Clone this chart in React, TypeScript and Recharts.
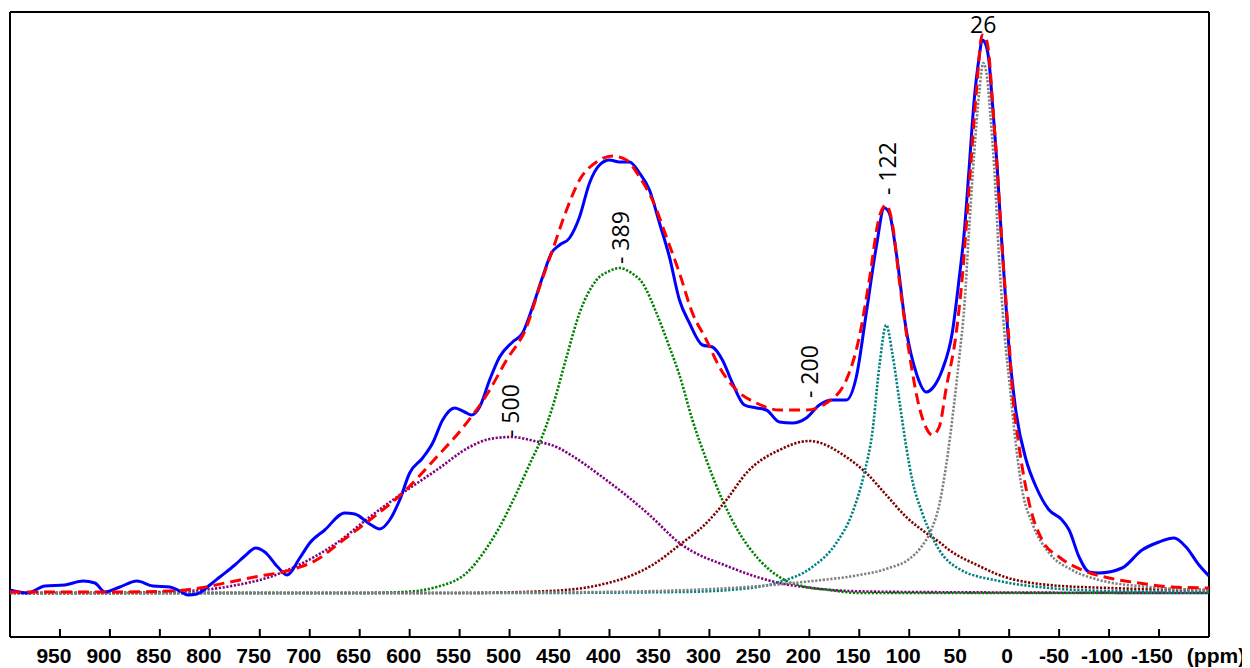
import React from "react";
import { LineChart, Line, XAxis, YAxis, ReferenceLine, ReferenceDot } from "recharts";

type Pt = [number, number];

// Experimental spectrum (ppm, intensity)
const experimental: Pt[] = [
  [1000, 3], [983, 0], [965, 7], [945, 8], [927, 12], [915, 10], [905, 1], [890, 6], [873, 12], [857, 7],
  [840, 6], [830, 2], [822, -2], [813, -1], [800, 8], [790, 16], [775, 28], [765, 37], [754, 45], [745, 41],
  [732, 26], [723, 18], [710, 35], [700, 50], [685, 63], [665, 80], [655, 79], [640, 69], [630, 64], [620, 73],
  [610, 93], [600, 120], [587, 135], [577, 150], [567, 173], [555, 185], [545, 181], [538, 178], [530, 186],
  [520, 213], [510, 236], [497, 251], [487, 260], [477, 286], [467, 316], [458, 340], [450, 348], [440, 355],
  [430, 376], [420, 410], [410, 428], [400, 433], [390, 431], [380, 431], [370, 420], [360, 403], [350, 370],
  [340, 336], [330, 293], [320, 270], [307, 248], [297, 246], [287, 233], [277, 210], [265, 188], [253, 185],
  [243, 183], [230, 171], [217, 170], [203, 175], [190, 188], [177, 193], [163, 193], [153, 216], [143, 280],
  [133, 346], [125, 385], [120, 380], [113, 340], [103, 263], [93, 220], [83, 201], [75, 207], [67, 223],
  [57, 260], [50, 315], [45, 360], [40, 426], [35, 493], [30, 536], [27, 553], [24, 550], [20, 530], [17, 493],
  [12, 426], [8, 360], [3, 285], [0, 243], [-3, 213], [-7, 180], [-17, 133], [-27, 106], [-40, 83], [-52, 74],
  [-60, 63], [-70, 36], [-80, 21], [-90, 20], [-113, 25], [-133, 43], [-150, 51], [-165, 55], [-177, 46],
  [-190, 28], [-200, 17],
];

// Fitted envelope
const fitted: Pt[] = [
  [1000, 1], [900, 1], [840, 2], [810, 5], [780, 11], [750, 17], [723, 22], [690, 35], [673, 48], [640, 73],
  [607, 100], [573, 136], [547, 165], [523, 198], [503, 233], [483, 266], [470, 306], [457, 343], [443, 383],
  [430, 413], [413, 431], [397, 437], [383, 433], [370, 416], [357, 393], [343, 356], [330, 320], [317, 280],
  [303, 253], [290, 226], [273, 203], [253, 190], [230, 183], [203, 183], [183, 190], [163, 213], [150, 256],
  [140, 313], [130, 376], [123, 388], [117, 370], [110, 313], [100, 240], [90, 186], [83, 165], [77, 158],
  [70, 166], [63, 205], [53, 260], [47, 315], [40, 407], [33, 499], [27, 558], [24, 556], [20, 536], [17, 495],
  [12, 426], [8, 360], [3, 290], [0, 250], [-3, 205], [-10, 146], [-20, 90], [-33, 53], [-50, 36], [-73, 23],
  [-100, 15], [-130, 10], [-163, 6], [-200, 5],
];

// Deconvoluted components
const peak500: Pt[] = [
  [1000, 0], [910, 0], [850, 1], [807, 3], [773, 8], [740, 16], [707, 30], [673, 50], [640, 76], [607, 100],
  [573, 123], [540, 146], [520, 154], [498, 156], [475, 152], [453, 146], [437, 137], [410, 118], [380, 95],
  [360, 78], [330, 50], [280, 26], [230, 10], [197, 5], [160, 2], [100, 1], [-200, 0],
];
const peak389: Pt[] = [
  [1000, 0], [650, 0], [607, 1], [573, 6], [540, 23], [525, 42], [510, 66], [493, 100], [478, 133], [470, 150],
  [457, 186], [443, 236], [430, 280], [413, 313], [400, 322], [390, 325], [378, 320], [367, 310], [353, 280],
  [340, 246], [330, 218], [317, 173], [303, 133], [287, 93], [270, 60], [250, 33], [230, 16], [203, 6],
  [180, 3], [150, 0], [-200, 0],
];
const peak200: Pt[] = [
  [1000, 0], [550, 0], [460, 2], [410, 8], [377, 18], [357, 28], [330, 48], [303, 70], [283, 93], [263, 120],
  [230, 143], [200, 152], [163, 136], [143, 120], [123, 98], [103, 76], [83, 60], [70, 51], [60, 43], [30, 27],
  [10, 18], [-40, 8], [-100, 5], [-200, 3],
];
const peak122: Pt[] = [
  [1000, 0], [500, 0], [330, 1], [280, 3], [230, 11], [197, 26], [173, 50], [157, 80], [145, 120], [137, 160],
  [130, 226], [123, 268], [117, 240], [110, 193], [103, 146], [97, 113], [87, 80], [77, 56], [70, 43], [50, 24],
  [10, 12], [-40, 5], [-100, 2], [-200, 1],
];
const peak26: Pt[] = [
  [1000, 0], [600, 0], [410, 1], [263, 6], [197, 12], [150, 18], [120, 25], [100, 34], [88, 46], [78, 63],
  [70, 88], [63, 128], [55, 190], [50, 235], [45, 285], [40, 365], [35, 440], [30, 500], [26, 530], [22, 515],
  [19, 480], [15, 426], [10, 333], [3, 241], [0, 213], [-7, 146], [-13, 103], [-23, 70], [-40, 40], [-63, 23],
  [-90, 13], [-140, 6], [-200, 3],
];

const xTicks = [950, 900, 850, 800, 750, 700, 650, 600, 550, 500, 450, 400, 350, 300, 250, 200, 150, 100, 50, 0, -50, -100, -150, -200];
const xTickLabels = ["950", "900", "850", "800", "750", "700", "650", "600", "550", "500", "450", "400", "350", "300", "250", "200", "150", "100", "50", "0", "-50", "-100", "-150", "(ppm)"];

const peakLabelPpm = [26, 122, 200, 389, 500];
const peakLabelValue = [560, 398, 195, 329, 156];
const peakLabelText = ["26", "- 122", "- 200", "- 389", "- 500"];
const peakLabelRotated = [false, true, true, true, true];

const toRows = (pts: Pt[]) => pts.map(([ppm, v]) => ({ ppm, v }));

const components = [
  { name: "p500", data: peak500, color: "#800080" },
  { name: "p389", data: peak389, color: "#008000" },
  { name: "p200", data: peak200, color: "#800000" },
  { name: "p122", data: peak122, color: "#008080" },
  { name: "p26", data: peak26, color: "#808080" },
];

const tickFont = "'Liberation Sans', Arial, sans-serif";
const labelFont = "'Open Sans', 'Noto Sans', sans-serif";

const XTick = (props: any) => {
  const { x, y, payload } = props;
  const i = xTicks.indexOf(payload.value);
  const label = xTickLabels[i] ?? String(payload.value);
  const isUnit = payload.value === -200;
  let w = 0;
  for (const ch of label) w += ch === "-" ? 7 : 11.7;
  const shift = isUnit ? -7 : Math.round(0.17 * w);
  return (
    <g>
      {!isUnit && <line x1={x} x2={x} y1={y} y2={y - 8} stroke="#000" strokeWidth={2} />}
      <text x={x - shift} y={y + 26} textAnchor="middle" fontSize={21} fontWeight="bold" fontFamily={tickFont} fill="#000">
        {label}
      </text>
    </g>
  );
};

const makeLabelShape = (text: string, rotated: boolean) => (p: any) => {
  const { cx, cy } = p;
  if (!rotated) {
    return (
      <text x={cx} y={cy} textAnchor="middle" fontSize={23} fontFamily={labelFont} fill="#000">
        {text}
      </text>
    );
  }
  return (
    <text
      x={cx}
      y={cy}
      transform={`rotate(-90, ${cx}, ${cy})`}
      textAnchor="start"
      dominantBaseline="central"
      fontSize={23}
      fontFamily={labelFont}
      fill="#000"
    >
      {text}
    </text>
  );
};

export default function App() {
  return (
    <div style={{ width: 1242, height: 662 }}>
      <LineChart width={1242} height={662} margin={{ top: 4, right: 41, bottom: 2, left: 2 }} style={{ overflow: "visible" }}>
        <XAxis
          dataKey="ppm"
          type="number"
          domain={[-200, 1000]}
          reversed
          allowDataOverflow
          ticks={xTicks}
          interval={0}
          tickSize={0}
          tickMargin={0}
          tickLine={false}
          tick={<XTick />}
          axisLine={{ stroke: "#000", strokeWidth: 2 }}
          height={31}
        />
        <YAxis hide type="number" domain={[-44, 581]} allowDataOverflow />
        <ReferenceLine y={581} stroke="#000" strokeWidth={2} />
        <ReferenceLine x={1000} stroke="#000" strokeWidth={2} />
        <ReferenceLine x={-200} stroke="#000" strokeWidth={2} />
        {components.map((c) => (
          <Line
            key={c.name}
            data={toRows(c.data)}
            dataKey="v"
            type="monotone"
            stroke={c.color}
            strokeWidth={2.6}
            strokeDasharray="2.2 1.6"
            dot={false}
            activeDot={false}
            isAnimationActive={false}
          />
        ))}
        <Line
          data={toRows(experimental)}
          dataKey="v"
          type="monotone"
          stroke="#0000FF"
          strokeWidth={3}
          dot={false}
          activeDot={false}
          isAnimationActive={false}
        />
        <Line
          data={toRows(fitted)}
          dataKey="v"
          type="monotone"
          stroke="#FF0000"
          strokeWidth={3}
          strokeDasharray="11 6"
          dot={false}
          activeDot={false}
          isAnimationActive={false}
        />
        {peakLabelPpm.map((ppm, i) => (
          <ReferenceDot
            key={ppm}
            x={ppm}
            y={peakLabelValue[i]}
            r={0}
            ifOverflow="visible"
            shape={makeLabelShape(peakLabelText[i], peakLabelRotated[i])}
          />
        ))}
      </LineChart>
    </div>
  );
}
